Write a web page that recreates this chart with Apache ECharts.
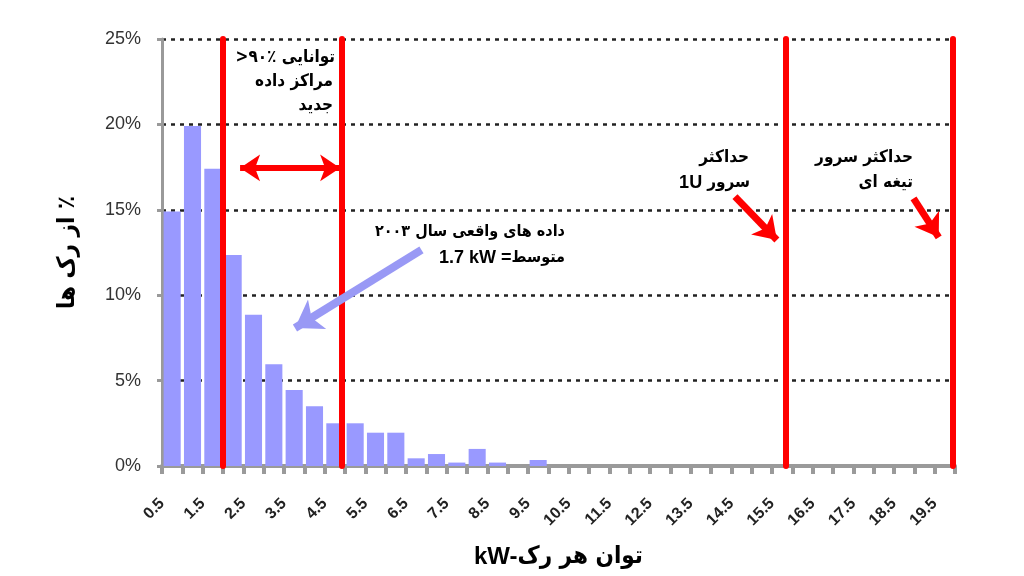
<!DOCTYPE html>
<html>
<head>
<meta charset="utf-8">
<script src="https://cdn.jsdelivr.net/npm/echarts@6/dist/echarts.min.js"></script>
<style>
html,body{margin:0;padding:0;background:#fff;}
#c{width:1024px;height:576px;}
</style>
</head>
<body>
<div id="c"></div>
<script>
// bins of 0.5 kW (bin start, kW)
const binStarts = ['0.5','1.0','1.5','2.0','2.5','3.0','3.5','4.0','4.5','5.0','5.5','6.0','6.5','7.0','7.5','8.0','8.5','9.0','9.5','10.0',
  '10.5','11.0','11.5','12.0','12.5','13.0','13.5','14.0','14.5','15.0','15.5','16.0','16.5','17.0','17.5','18.0','18.5','19.0','19.5'];
// % of racks
const rackShare = [14.9, 19.9, 17.4, 12.35, 8.85, 5.95, 4.45, 3.5, 2.5, 2.5, 1.95, 1.95, 0.45, 0.7, 0.2, 1.0, 0.2, 0, 0.35, 0,
  0, 0, 0, 0, 0, 0, 0, 0, 0, 0, 0, 0, 0, 0, 0, 0, 0, 0, 0];
const tickLabels = ['0.5','1.5','2.5','3.5','4.5','5.5','6.5','7.5','8.5','9.5','10.5','11.5','12.5','13.5','14.5','15.5','16.5','17.5','18.5','19.5'];
const yTicks = [0, 5, 10, 15, 20, 25];
// limit lines (kW)
const limitLinesKW = [2.0, 4.93, 15.85, 19.95];
// arrows [fromKW, fromPct, toKW, toPct]
const rangeArrow = [2.42, 17.45, 4.88, 17.45];
const avgArrow = [6.88, 12.65, 3.77, 8.08];
const maxArrows = [[14.59, 15.77, 15.62, 13.23], [18.98, 15.67, 19.6, 13.39]];

const toIdx = kw => (kw - 0.5) * 2;

const chart = echarts.init(document.getElementById('c'), null, {renderer: 'canvas'});
const red = '#ff0000';
const gray = '#9a9a9a';
const perFont = "'DejaVu Sans Condensed','DejaVu Sans','Noto Sans',sans-serif";
const latFont = "'Liberation Sans',Arial,sans-serif";

const markData = [];
limitLinesKW.forEach(kw => {
  markData.push([{coord: [toIdx(kw), yTicks[0]], lineStyle: {color: red, width: 6, type: 'solid', cap: 'round'}, symbol: 'none'},
                 {coord: [toIdx(kw), yTicks[yTicks.length - 1]], symbol: 'none'}]);
});
markData.push([{coord: [toIdx(rangeArrow[0]), rangeArrow[1]], symbol: 'arrow', symbolSize: [20, 20], lineStyle: {color: red, width: 6, type: 'solid'}},
               {coord: [toIdx(rangeArrow[2]), rangeArrow[3]], symbol: 'arrow', symbolSize: [20, 20]}]);
markData.push([{coord: [toIdx(avgArrow[0]), avgArrow[1]], symbol: 'none', lineStyle: {color: '#9999f5', width: 8, type: 'solid'}},
               {coord: [toIdx(avgArrow[2]), avgArrow[3]], symbol: 'arrow', symbolSize: [26, 26]}]);
maxArrows.forEach(a => {
  markData.push([{coord: [toIdx(a[0]), a[1]], symbol: 'none', lineStyle: {color: red, width: 7, type: 'solid'}},
                 {coord: [toIdx(a[2]), a[3]], symbol: 'arrow', symbolSize: [22, 22]}]);
});

function richStyles(size, latSize) {
  return {
    p: {fontFamily: perFont, fontWeight: 'bold', fontSize: size, color: '#000'},
    l: {fontFamily: latFont, fontWeight: 'bold', fontSize: latSize || size, color: '#000'}
  };
}
function txt(x, y, s, size, latSize) {
  return {type: 'text', x: x, y: y, z: 100,
    style: {text: s, rich: richStyles(size || 17, latSize), fill: '#000', font: 'bold ' + (size || 17) + 'px ' + perFont, align: 'right', verticalAlign: 'middle'}};
}

chart.setOption({
  animation: false,
  backgroundColor: '#fff',
  grid: {left: 162, right: 69, top: 39, bottom: 110, containLabel: false},
  xAxis: [{
    type: 'category',
    data: binStarts,
    boundaryGap: true,
    axisLine: {show: true, lineStyle: {color: gray, width: 4}},
    axisTick: {show: true, interval: 0, length: 8, lineStyle: {color: gray, width: 4}},
    axisLabel: {show: false},
    splitLine: {show: false},
    name: '{l|kW-}{p|توان هر رک}',
    nameLocation: 'middle',
    nameGap: 79,
    nameTextStyle: {fontFamily: perFont, fontWeight: 'bold', fontSize: 24, color: '#000', rich: richStyles(24)}
  }, {
    type: 'value',
    position: 'bottom',
    min: 0, max: binStarts.length, interval: 2,
    axisLine: {show: false}, axisTick: {show: false}, splitLine: {show: false},
    axisLabel: {
      rotate: 45, margin: 35, showMaxLabel: false,
      fontFamily: latFont, fontSize: 16, fontWeight: 'bold', color: '#222',
      formatter: v => (v % 2 === 0 && v / 2 < tickLabels.length) ? tickLabels[v / 2] : ''
    }
  }],
  yAxis: {
    type: 'value', min: yTicks[0], max: yTicks[yTicks.length - 1], interval: 5,
    offset: 6,
    axisLine: {show: true, lineStyle: {color: gray, width: 3}},
    axisTick: {show: true, length: 5, lineStyle: {color: gray, width: 3}},
    axisLabel: {formatter: '{value}%', fontFamily: latFont, fontSize: 18, color: '#333', margin: 15},
    splitLine: {show: true, lineStyle: {color: '#222', width: 2.5, type: [4, 5]}},
    name: '{p|از رک ها}{p| ٪}',
    nameLocation: 'middle',
    nameGap: 76,
    nameRotate: 90,
    nameTextStyle: {fontFamily: perFont, fontWeight: 'bold', fontSize: 24, color: '#000', rich: richStyles(24)}
  },
  series: [{
    type: 'bar',
    xAxisIndex: 0, yAxisIndex: 0,
    data: rackShare,
    barCategoryGap: '16%',
    itemStyle: {color: '#9999ff'},
    silent: true
  }, {
    type: 'line',
    xAxisIndex: 1, yAxisIndex: 0,
    data: [],
    silent: true,
    z: 5,
    markLine: {silent: true, animation: false, label: {show: false}, data: markData}
  }],
  graphic: [
    txt(335, 58, '{p|>۹۰٪}{p| }{p|توانایی}'),
    txt(333, 82, '{p|مراکز داده}'),
    txt(333, 106, '{p|جدید}'),
    txt(565, 232, '{p|۲۰۰۳}{p| }{p|داده های واقعی سال}', 16),
    txt(565, 258, '{l|1.7 kW }{l|=}{p|متوسط}', 16, 18),
    txt(749, 158, '{p|حداکثر}'),
    txt(750, 183, '{l|1U }{p|سرور}', 17, 18),
    txt(913, 158, '{p|حداکثر سرور}'),
    txt(913, 183, '{p|تیغه ای}')
  ]
});
</script>
</body>
</html>
